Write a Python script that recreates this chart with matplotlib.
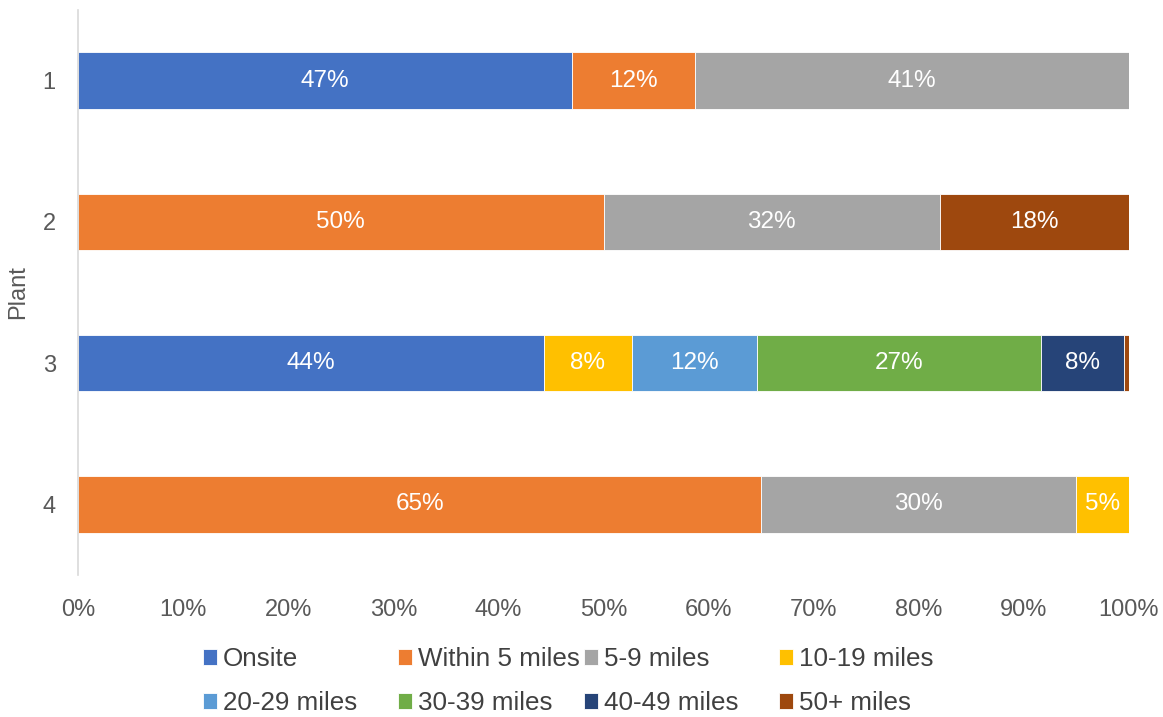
import numpy as np
import matplotlib.pyplot as plt

plt.rcParams['font.family'] = ['Liberation Sans', 'DejaVu Sans']

# Share of respondents by commute distance, per plant (percent)
plants = ['1', '2', '3', '4']
categories = ['Onsite', 'Within 5 miles', '5-9 miles', '10-19 miles',
              '20-29 miles', '30-39 miles', '40-49 miles', '50+ miles']
onsite = [47.0, 0.0, 44.3, 0.0]
within5 = [11.7, 50.0, 0.0, 65.0]
miles_5_9 = [41.3, 32.0, 0.0, 30.0]
miles_10_19 = [0.0, 0.0, 8.4, 5.0]
miles_20_29 = [0.0, 0.0, 11.9, 0.0]
miles_30_39 = [0.0, 0.0, 27.0, 0.0]
miles_40_49 = [0.0, 0.0, 7.9, 0.0]
miles_50p = [0.0, 18.0, 0.5, 0.0]

series = [onsite, within5, miles_5_9, miles_10_19,
          miles_20_29, miles_30_39, miles_40_49, miles_50p]
colors = ['#4472C4', '#ED7D31', '#A5A5A5', '#FFC000',
          '#5B9BD5', '#70AD47', '#264478', '#9E480E']

fig = plt.figure(figsize=(11.63, 7.17), dpi=100)
ax = fig.add_axes([78 / 1163, 1 - 575 / 717, 1051 / 1163, 565 / 717])

y = np.arange(len(plants))
left = np.zeros(len(plants))
for name, vals, col in zip(categories, series, colors):
    vals = np.array(vals)
    bars = ax.barh(y, vals, left=left, height=0.4, color=col, label=name,
                   edgecolor='white', linewidth=0.6)
    for b, v, l in zip(bars, vals, left):
        if v >= 1:
            ax.text(l + v / 2, b.get_y() + b.get_height() / 2,
                    '{:.0f}%'.format(v), ha='center', va='center',
                    color='white', fontsize=17.5)
    left += vals

ax.set_xlim(0, 100)
ax.set_ylim(3.5, -0.5)
ax.set_yticks(y)
ax.set_yticklabels(plants)
ax.set_xticks(np.arange(0, 101, 10))
ax.set_xticklabels(['{}%'.format(t) for t in range(0, 101, 10)])
ax.tick_params(axis='both', length=0, labelsize=17, labelcolor='#595959')
ax.tick_params(axis='x', pad=17)
ax.tick_params(axis='y', pad=16)
for s in ['top', 'right', 'bottom']:
    ax.spines[s].set_visible(False)
ax.spines['left'].set_color('#D9D9D9')
ax.spines['left'].set_linewidth(1.2)
ax.set_ylabel('Plant', fontsize=17, color='#595959', labelpad=10)

# legend: 4 columns filled row by row, like the original
handles, labels = ax.get_legend_handles_labels()
col_x = [203, 398, 584, 779]
for j, x in enumerate(col_x):
    idx = [j, j + 4]
    fig.legend([handles[i] for i in idx], [labels[i] for i in idx],
               loc='upper left', bbox_to_anchor=(x / 1163, 1 - 647 / 717),
               ncol=1, frameon=False, fontsize=18.7, labelcolor='#404040',
               handlelength=0.55, handleheight=0.55, handletextpad=0.22,
               labelspacing=0.78, borderpad=0, borderaxespad=0)

fig.savefig('out.png', dpi=100)
